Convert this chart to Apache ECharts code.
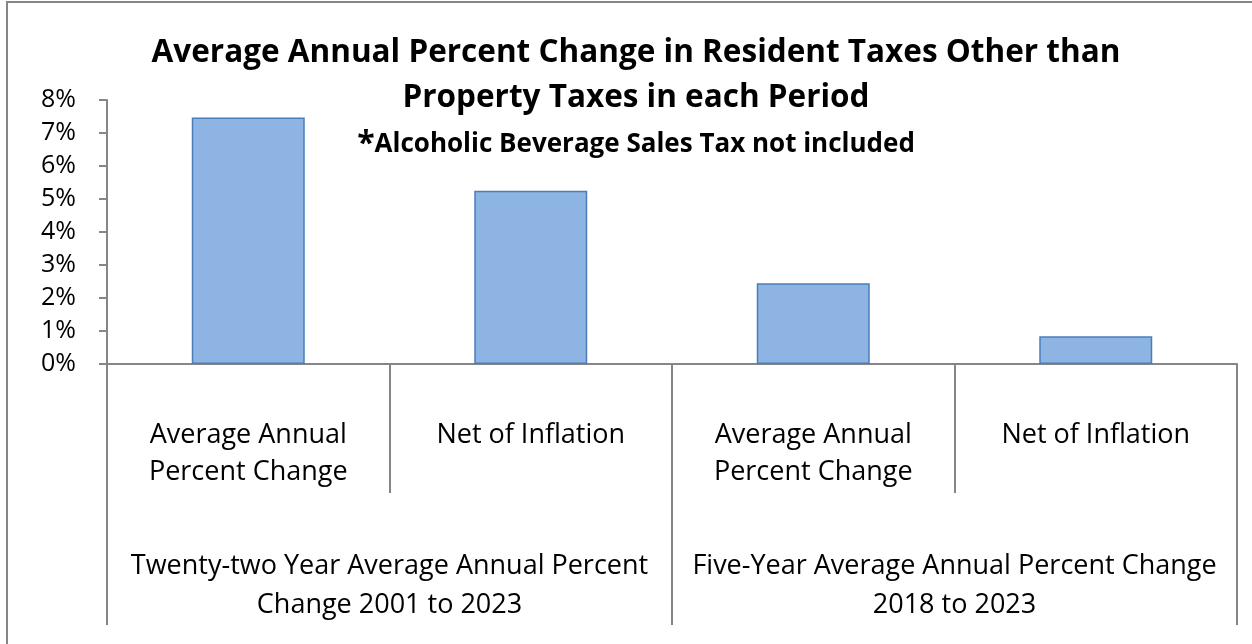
<!DOCTYPE html>
<html>
<head>
<meta charset="utf-8">
<script src="https://cdn.jsdelivr.net/npm/echarts@6/dist/echarts.min.js"></script>
<style>
  html, body { margin: 0; padding: 0; background: #fff; }
  #chart { width: 1252px; height: 644px; }
</style>
</head>
<body>
<div id="chart"></div>
<script>
// data
var categories = [
  "Average Annual\nPercent Change",
  "Net of Inflation",
  "Average Annual\nPercent Change",
  "Net of Inflation"
];
var groups = [
  "Twenty-two Year Average Annual Percent\nChange 2001 to 2023",
  "Five-Year Average Annual Percent Change\n2018 to 2023"
];
var values = [7.47, 5.25, 2.45, 0.84]; // percent

var FONT = "'Open Sans', sans-serif";
var GRAY = "#868686";

var myChart = echarts.init(document.getElementById("chart"));
myChart.setOption({
  backgroundColor: "#fff",
  animation: false,
  title: [
    {
      text: "Average Annual Percent Change in Resident Taxes Other than\nProperty Taxes in each Period",
      left: 631,
      top: 26,
      textAlign: "center",
      textStyle: {
        fontFamily: FONT, fontWeight: "bold", fontSize: 31.5,
        lineHeight: 45, color: "#000"
      }
    },
    {
      text: "{a|*}Alcoholic Beverage Sales Tax not included",
      left: 631,
      top: 124,
      textAlign: "center",
      textStyle: {
        fontFamily: FONT, fontWeight: "bold", fontSize: 26, lineHeight: 32, color: "#000",
        rich: {
          a: { fontFamily: FONT, fontWeight: "bold", fontSize: 32, lineHeight: 32, color: "#000" }
        }
      }
    }
  ],
  grid: { left: 107, right: 15, top: 100, bottom: 280 },
  xAxis: [
    {
      type: "category",
      data: categories,
      axisLine: { lineStyle: { color: GRAY, width: 2 } },
      axisTick: { show: true, length: 129, lineStyle: { color: GRAY, width: 2 } },
      axisLabel: {
        interval: 0, margin: 53,
        fontFamily: FONT, fontSize: 27, lineHeight: 37, color: "#000"
      }
    },
    {
      type: "category",
      data: groups,
      position: "bottom",
      axisLine: { show: false },
      axisTick: { show: true, length: 261, lineStyle: { color: GRAY, width: 2 } },
      axisLabel: {
        interval: 0, margin: 183,
        fontFamily: FONT, fontSize: 27, lineHeight: 39, color: "#000"
      }
    }
  ],
  yAxis: {
    type: "value",
    min: 0, max: 8, interval: 1,
    axisLine: { show: true, lineStyle: { color: GRAY, width: 2 } },
    axisTick: { show: true, length: 8, lineStyle: { color: GRAY, width: 2 } },
    splitLine: { show: false },
    axisLabel: {
      formatter: "{value}%", margin: 31,
      fontFamily: FONT, fontSize: 25, color: "#000"
    }
  },
  series: [
    {
      type: "bar",
      xAxisIndex: 0,
      data: values,
      barWidth: "40%",
      itemStyle: { color: "#8EB4E3", borderColor: "#4A7EBB", borderWidth: 1.5 }
    }
  ],
  graphic: [
    { type: "line", shape: { x1: 7, y1: 2, x2: 7, y2: 644 }, style: { stroke: GRAY, lineWidth: 2 } },
    { type: "line", shape: { x1: 6, y1: 2, x2: 1252, y2: 2 }, style: { stroke: GRAY, lineWidth: 2 } }
  ]
});
</script>
</body>
</html>
